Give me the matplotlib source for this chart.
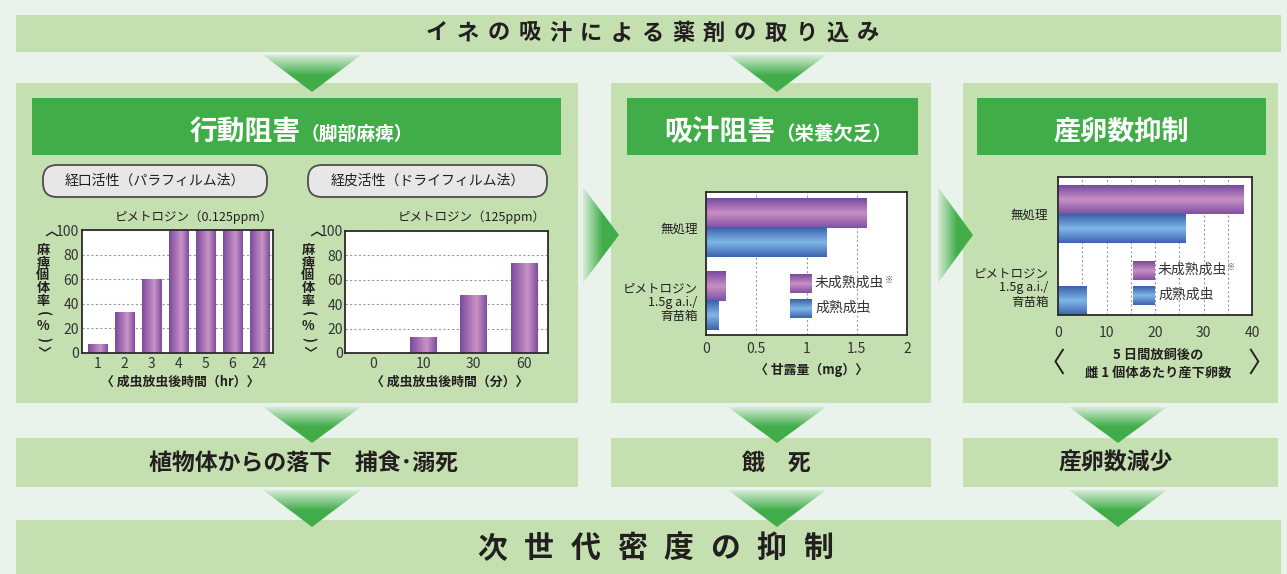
import numpy as np
import matplotlib
matplotlib.use("Agg")
import matplotlib.pyplot as plt
from matplotlib.patches import Rectangle, Polygon, FancyBboxPatch
from matplotlib.colors import LinearSegmentedColormap, to_rgb
from matplotlib.ticker import MultipleLocator

plt.rcParams["font.family"] = ["Noto Sans CJK JP", "DejaVu Sans"]

# values
oral_hours = ["1", "2", "3", "4", "5", "6", "24"]
oral_rate = [7, 33, 60, 100, 100, 100, 100]        # % paralysed
dermal_minutes = ["0", "10", "30", "60"]
dermal_rate = [0, 13, 47, 73]                       # % paralysed
treatments = ["無処理", "ピメトロジン\n1.5g a.i./\n育苗箱"]
honeydew_young = [1.60, 0.19]                       # mg
honeydew_adult = [1.20, 0.12]
eggs_young = [38.2, 0.0]                            # eggs / female
eggs_adult = [26.3, 5.9]

W, H = 1287, 574
BG = "#e9f3ec"
PANEL = "#c5e0b0"
GREEN = "#41ad49"
INK = "#231f20"
TICK = "#333333"

purple_v = LinearSegmentedColormap.from_list("pv", [(0, "#7a4a9c"), (0.62, "#ca93c6"), (1, "#7d4ea0")])
purple_h = LinearSegmentedColormap.from_list("ph", [(0, "#764a9e"), (0.5, "#c98fc5"), (1, "#7e51a3")])
blue_h = LinearSegmentedColormap.from_list("bh", [(0, "#3a5fae"), (0.5, "#80b7e6"), (1, "#3c62b0")])

fig = plt.figure(figsize=(W / 100, H / 100), dpi=100, facecolor=BG)


def box(l, t, r, b):
    return [l / W, 1 - b / H, (r - l) / W, (b - t) / H]


# ---------- background layout ----------
bg = fig.add_axes([0, 0, 1, 1], zorder=0)
bg.set_axis_off()

for l, t, r, b in [(16, 15, 1281, 52), (16, 83, 578, 403), (611, 83, 931, 403),
                   (963, 83, 1278, 403), (16, 438, 578, 487), (611, 438, 931, 487),
                   (963, 438, 1278, 487), (16, 520, 1281, 574)]:
    bg.add_patch(Rectangle((l, t), r - l, b - t, fc=PANEL, ec="none", zorder=1))

for l, t, r, b in [(32, 98, 561, 155), (627, 98, 918, 155), (977, 98, 1266, 155)]:
    bg.add_patch(Rectangle((l, t), r - l, b - t, fc=GREEN, ec="none", zorder=2))

light = np.array(to_rgb("#d6ecd7"))
green = np.array(to_rgb(GREEN))


def arrow(pts, ext, vertical):
    t = np.linspace(0, 1, 120)
    f = np.clip(t / 0.55, 0, 1)[:, None]
    cols = light * (1 - f) + green * f
    img = cols[:, None, :] if vertical else cols[None, :, :]
    poly = Polygon(pts, closed=True, fc="none", ec="none")
    bg.add_patch(poly)
    im = bg.imshow(img, extent=ext, origin="upper", aspect="auto",
                   interpolation="bilinear", zorder=3)
    im.set_clip_path(poly)


for cx, top, tip in [(312, 55, 92), (777, 55, 92),
                     (312, 407, 443), (777, 407, 443), (1118, 407, 443),
                     (312, 490, 527), (777, 490, 527), (1118, 490, 527)]:
    arrow([(cx - 49, top), (cx + 49, top), (cx, tip)], (cx - 49, cx + 49, tip, top), True)

for x0, x1 in [(583, 619), (938, 973)]:
    arrow([(x0, 187), (x0, 283), (x1, 235)], (x0, x1, 283, 187), False)

for l, r in [(43, 267), (308, 547)]:
    bg.add_patch(FancyBboxPatch((l, 165), r - l, 32, boxstyle="round,pad=0,rounding_size=14",
                                fc="#e7e7e7", ec="#4d4d4d", lw=1.3, zorder=2))

bg.set_xlim(0, W)
bg.set_ylim(H, 0)


# ---------- charts ----------
def grad_bars(ax, bars, cmap, vertical):
    g = np.linspace(0, 1, 128)
    g = g.reshape(1, -1) if vertical else g.reshape(-1, 1)
    for b in bars:
        w, h = b.get_width(), b.get_height()
        if w == 0 or h == 0:
            continue
        x0, y0 = b.get_x(), b.get_y()
        ax.imshow(g, cmap=cmap, extent=(x0, x0 + w, y0, y0 + h), origin="lower",
                  aspect="auto", interpolation="bilinear", zorder=2)


def style(ax, grid_axis, fs, padx, pady):
    ax.set_facecolor("white")
    for s in ax.spines.values():
        s.set_color("#2b2b2b")
        s.set_linewidth(1.3)
    ax.tick_params(which="both", length=0, labelsize=fs, labelcolor=TICK)
    ax.tick_params(axis="x", pad=padx)
    ax.tick_params(axis="y", pad=pady)
    ax.grid(axis=grid_axis, which="both", color="#9a9a9a", lw=0.8, ls=(0, (2, 2)))
    ax.set_axisbelow(True)


# oral activity
ax1 = fig.add_axes(box(82, 230, 273, 353), zorder=5)
x1 = np.arange(len(oral_hours))
b1 = ax1.bar(x1, oral_rate, width=0.71, color="none")
grad_bars(ax1, b1, purple_v, True)
ax1.set_xticks(x1, oral_hours)
ax1.set_yticks(range(0, 101, 20))
style(ax1, "y", 10, 3, 2)
ax1.set_xlim(-0.59, 6.51)
ax1.set_ylim(0, 100)

# dermal activity
ax2 = fig.add_axes(box(345, 231, 548, 353), zorder=5)
x2 = np.arange(len(dermal_minutes))
b2 = ax2.bar(x2, dermal_rate, width=0.53, color="none")
grad_bars(ax2, b2, purple_v, True)
ax2.set_xticks(x2, dermal_minutes)
ax2.set_yticks(range(0, 101, 20))
style(ax2, "y", 10, 3, 1.5)
ax2.set_xlim(-0.55, 3.47)
ax2.set_ylim(0, 100)

# honeydew
ax3 = fig.add_axes(box(706, 192, 907, 335), zorder=5)
y3 = np.arange(len(treatments))
b3a = ax3.barh(y3 - 0.2, honeydew_young, height=0.4, color="none")
b3b = ax3.barh(y3 + 0.2, honeydew_adult, height=0.4, color="none")
grad_bars(ax3, b3a, purple_h, False)
grad_bars(ax3, b3b, blue_h, False)
ax3.set_xticks([0, 0.5, 1, 1.5, 2], ["0", "0.5", "1", "1.5", "2"])
ax3.set_yticks(y3, treatments)
style(ax3, "x", 10, 5, 6)
ax3.tick_params(axis="y", labelsize=9, labelcolor=INK)
ax3.set_xlim(0, 2)
ax3.set_ylim(1.466, -0.493)

# eggs
ax4 = fig.add_axes(box(1058, 177, 1252, 315), zorder=5)
y4 = np.arange(len(treatments))
b4a = ax4.barh(y4 - 0.2, eggs_young, height=0.4, color="none")
b4b = ax4.barh(y4 + 0.2, eggs_adult, height=0.4, color="none")
grad_bars(ax4, b4a, purple_h, False)
grad_bars(ax4, b4b, blue_h, False)
ax4.set_xticks(range(0, 41, 10))
ax4.xaxis.set_minor_locator(MultipleLocator(5))
ax4.set_yticks(y4, treatments)
style(ax4, "x", 10, 8, 7)
ax4.tick_params(axis="y", labelsize=9, labelcolor=INK)
ax4.set_xlim(0, 40)
ax4.set_ylim(1.403, -0.514)

for ax in (ax3, ax4):
    for lbl in ax.get_yticklabels():
        lbl.set_linespacing(1.1)

# ---------- text overlay ----------
fg = fig.add_axes([0, 0, 1, 1], zorder=10)
fg.set_axis_off()
fg.patch.set_alpha(0)

title_top = "イネの吸汁による薬剤の取り込み"
for i, ch in enumerate(title_top):
    fg.text(437 + i * 30.8, 33, ch, ha="center", va="center", fontsize=16,
            fontweight="bold", color=INK)

title_bot = "次世代密度の抑制"
for i, ch in enumerate(title_bot):
    fg.text(492 + i * 46.6, 548, ch, ha="center", va="center", fontsize=21.5,
            fontweight="bold", color=INK)

fg.text(301, 140, "行動阻害", ha="right", va="baseline", fontsize=20, fontweight="bold", color="white")
fg.text(301, 140, "（脚部麻痺）", ha="left", va="baseline", fontsize=13.5, fontweight="bold", color="white")
fg.text(775, 140, "吸汁阻害", ha="right", va="baseline", fontsize=20, fontweight="bold", color="white")
fg.text(775, 140, "（栄養欠乏）", ha="left", va="baseline", fontsize=14, fontweight="bold", color="white")
fg.text(1121, 140, "産卵数抑制", ha="center", va="baseline", fontsize=19.5, fontweight="bold", color="white")

fg.text(303, 463, "植物体からの落下　捕食･溺死", ha="center", va="center", fontsize=16.5,
        fontweight="bold", color=INK)
fg.text(776, 463, "餓　死", ha="center", va="center", fontsize=16.5, fontweight="bold", color=INK)
fg.text(1116, 463, "産卵数減少", ha="center", va="center", fontsize=16.5, fontweight="bold", color=INK)

fg.text(155, 181, "経口活性（パラフィルム法）", ha="center", va="center", fontsize=10, color=INK)
fg.text(428, 181, "経皮活性（ドライフィルム法）", ha="center", va="center", fontsize=10, color=INK)
fg.text(273, 217, "ピメトロジン（0.125ppm）", ha="right", va="center", fontsize=9, color=INK)
fg.text(546, 217, "ピメトロジン（125ppm）", ha="right", va="center", fontsize=9, color=INK)

# vertical axis title: brackets are turned a quarter clockwise
vchars = [("〈", -90), ("麻", 0), ("痺", 0), ("個", 0), ("体", 0), ("率", 0),
          ("(", -90), ("%", 0), (")", -90), ("〉", -90)]
for x in (43, 308):
    step = (352 - 237) / (len(vchars) - 1)
    for i, (c, rot) in enumerate(vchars):
        fg.text(x, 237 + i * step, c, ha="center", va="center", fontsize=9.5,
                fontweight="bold", color=INK, rotation=rot)

fg.text(180, 382, "〈 成虫放虫後時間（hr）〉", ha="center", va="center", fontsize=9.3,
        fontweight="bold", color=INK)
fg.text(450, 382, "〈 成虫放虫後時間（分）〉", ha="center", va="center", fontsize=9.3,
        fontweight="bold", color=INK)
fg.text(812, 370, "〈 甘露量（mg）〉", ha="center", va="center", fontsize=9.3,
        fontweight="bold", color=INK)
fg.text(1158, 355, "5 日間放飼後の", ha="center", va="center", fontsize=9.5,
        fontweight="bold", color=INK)
fg.text(1158, 373, "雌 1 個体あたり産下卵数", ha="center", va="center", fontsize=9.5,
        fontweight="bold", color=INK)
fg.text(1052, 364, "〈", ha="center", va="center", fontsize=20, color=INK)
fg.text(1261, 364, "〉", ha="center", va="center", fontsize=20, color=INK)

# legends
g = np.linspace(0, 1, 64).reshape(-1, 1)
for lx, ptop, btop, tx, s1, s2, sx, sy in [(790, 274, 299, 815, 283, 308, 889, 280),
                                         (1133, 261, 286, 1158, 270, 295, 1231, 267)]:
    fg.imshow(g, cmap=purple_h, extent=(lx, lx + 22, ptop, ptop + 19), origin="lower",
              aspect="auto", zorder=3)
    fg.imshow(g, cmap=blue_h, extent=(lx, lx + 22, btop, btop + 19), origin="lower",
              aspect="auto", zorder=3)
    fg.text(tx, s1, "未成熟成虫", ha="left", va="center", fontsize=10, color=TICK)
    fg.text(tx, s2, "成熟成虫", ha="left", va="center", fontsize=10, color=TICK)
    fg.text(sx, sy, "※", ha="center", va="center", fontsize=6, color="#444444")

fg.set_xlim(0, W)
fg.set_ylim(H, 0)

fig.savefig("out.png", dpi=100, facecolor=BG)
